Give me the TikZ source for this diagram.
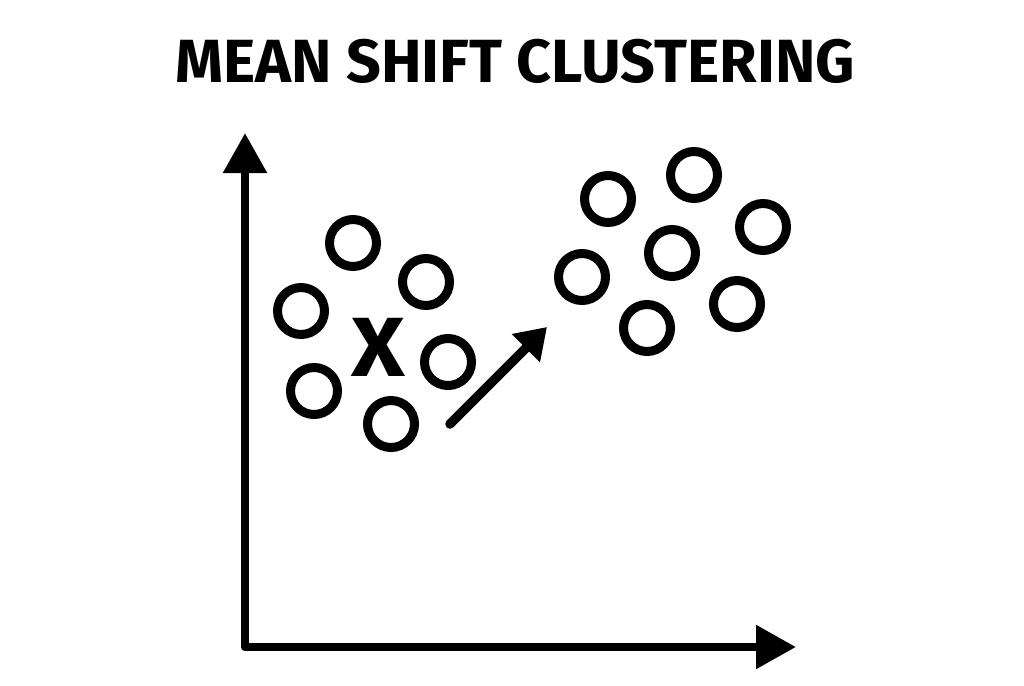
\documentclass[tikz,border=0pt]{standalone}
\usepackage{fontspec}
\setmainfont{Fira Sans}
\usetikzlibrary{arrows.meta}
\begin{document}
\begin{tikzpicture}[x=1pt,y=-1pt]
\tikzstyle{dot}=[circle, draw=black, line width=9pt, minimum size=47pt, inner sep=0pt]
\tikzstyle{axis}=[line width=8.5pt, line join=round, {Triangle[length=40pt,width=42pt]}-{Triangle[length=40pt,width=42pt]}]
\tikzstyle{shiftarrow}=[line width=9.5pt, line cap=round, -{Triangle[length=30pt,width=38pt]}]
\tikzstyle{title}=[font=\fontsize{61}{61}\selectfont\bfseries, inner sep=0pt]
\tikzstyle{centre}=[font=\fontsize{84}{84}\selectfont\bfseries, inner sep=0pt, xscale=1.1, transform shape]

\useasboundingbox (0,0) rectangle (1024,685);

%title
\node (head) [title] at (515,61) {MEAN SHIFT CLUSTERING};

%axes
\coordinate (ytip) at (245,133);
\coordinate (origin) at (245,647);
\coordinate (xtip) at (796,647);
\draw [axis] (ytip) -- (origin) -- (xtip);

%first cluster
\node (a1) [dot] at (353,243) {};
\node (a2) [dot] at (426,282) {};
\node (a3) [dot] at (301,311) {};
\node (a4) [dot] at (448,362) {};
\node (a5) [dot] at (314,391) {};
\node (a6) [dot] at (391,424) {};
\node (mean) [centre] at (378,347) {X};

%second cluster
\node (b1) [dot] at (608,199) {};
\node (b2) [dot] at (694,175) {};
\node (b3) [dot] at (763,227) {};
\node (b4) [dot] at (672,253) {};
\node (b5) [dot] at (582,277) {};
\node (b6) [dot] at (737,304) {};
\node (b7) [dot] at (647,328) {};

%shift arrow
\coordinate (from) at (450,424);
\coordinate (to) at (547,327);
\draw [shiftarrow] (from) -- (to);
\end{tikzpicture}
\end{document}
